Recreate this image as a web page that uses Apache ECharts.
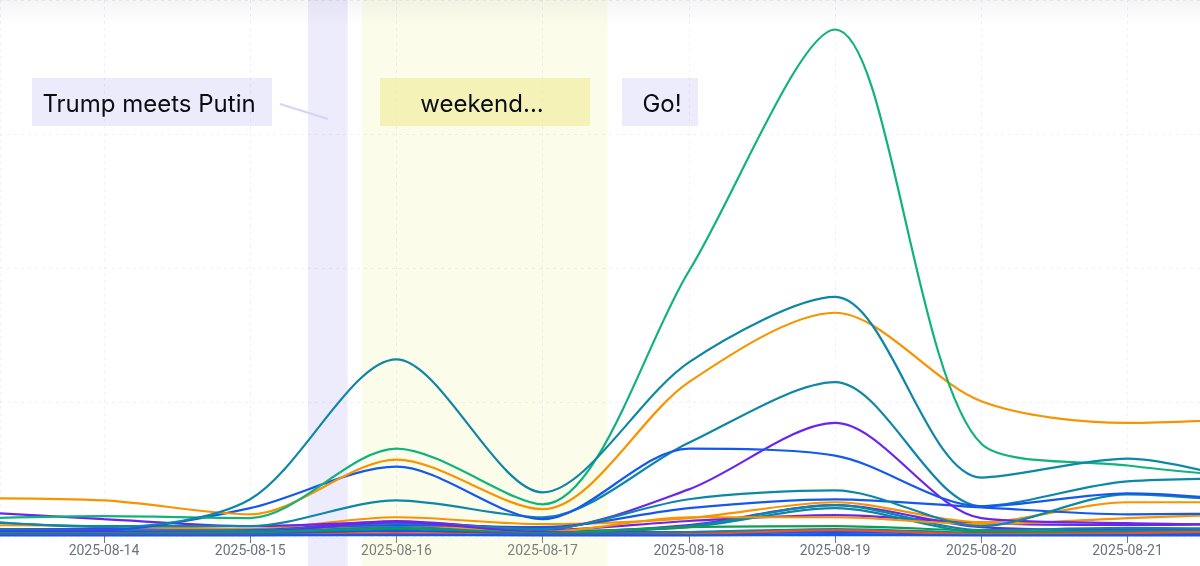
<!DOCTYPE html>
<html>
<head>
    <meta charset="utf-8">
    <title>ECharts</title>
    <script src="https://cdn.jsdelivr.net/npm/echarts@6/dist/echarts.min.js"></script>
    <style>
        html, body { margin: 0; padding: 0; background: #fff; }
        #main { width: 1200px; height: 566px; }
    </style>
</head>
<body>
    <div id="main"></div>
    <script type="text/javascript">
        var days = ['2025-08-13', '2025-08-14', '2025-08-15', '2025-08-16', '2025-08-17',
                    '2025-08-18', '2025-08-19', '2025-08-20', '2025-08-21', '2025-08-22'];

        var teal = '#0e87a6', blue = '#1558f0', green = '#10b37c', orange = '#f79400',
            purple = '#6c25ee', red = '#f2501c', darkGreen = '#0f9d4f';

        // one value per day
        var s01 = [4, 4, 4, 7, 4, 4, 7, 4, 4, 4];
        var s02 = [19, 15, 15, 44, 19, 37, 115, 22, 30, 26];
        var s03 = [15, 15, 15, 37, 15, 33, 104, 15, 19, 19];
        var s04 = [19, 19, 15, 48, 15, 41, 115, 33, 22, 33];
        var s05 = [26, 26, 22, 56, 22, 56, 78, 48, 41, 48];
        var s06 = [22, 22, 19, 41, 15, 70, 70, 44, 67, 85];
        var s07 = [41, 37, 26, 70, 44, 67, 126, 52, 126, 126];
        var s08 = [15, 19, 22, 41, 33, 104, 137, 107, 81, 85];
        var s09 = [93, 63, 37, 52, 26, 174, 422, 67, 48, 41];
        var s10 = [26, 22, 19, 48, 26, 137, 170, 37, 155, 115];
        var s11 = [56, 37, 37, 133, 70, 348, 574, 111, 204, 215];
        var s12 = [19, 22, 104, 259, 63, 326, 300, 111, 159, 122];
        var s13 = [141, 133, 81, 285, 100, 574, 833, 503, 422, 444];
        var s14 = [63, 74, 67, 326, 118, 988, 1890, 344, 263, 211];
        var s15 = [63, 33, 137, 659, 163, 648, 892, 218, 289, 174];
        var s16 = [11, 15, 15, 52, 15, 15, 19, 11, 11, 11];
        var s17 = [11, 11, 15, 30, 11, 15, 26, 11, 7, 11];
        var s18 = [11, 11, 11, 26, 11, 33, 37, 19, 11, 11];
        var s19 = [7, 7, 7, 19, 7, 7, 15, 7, 7, 7];
        var s20 = [2, 2, 2, 4, 2, 2, 4, 2, 2, 2];
        var s21 = [4, 4, 4, 11, 4, 7, 22, 7, 11, 19];

        var lines = [
            [s01, blue], [s04, purple], [s05, purple], [s02, teal], [s03, teal], [s06, orange],
            [s07, orange], [s08, blue], [s09, purple], [s10, teal], [s11, teal], [s12, blue],
            [s13, orange], [s14, green], [s15, teal], [s16, purple], [s17, teal], [s18, darkGreen],
            [s19, blue], [s21, red], [s20, blue]
        ];

        // shaded periods, start and end
        var bands = [
            ['2025-08-15 09:29', '2025-08-15 16:00'],
            ['2025-08-15 18:20', '2025-08-17 10:40']
        ];
        var bandColors = ['rgba(84,72,228,0.105)', 'rgba(230,235,100,0.13)'];

        var series = [{
            type: 'custom',
            silent: true,
            z: 1,
            encode: { x: [0, 1] },
            data: bands,
            renderItem: function (params, api) {
                var x0 = api.coord([api.value(0), 0])[0];
                var x1 = api.coord([api.value(1), 0])[0];
                return {
                    type: 'rect',
                    shape: { x: x0, y: 0, width: x1 - x0, height: 566 },
                    style: { fill: bandColors[params.dataIndex] }
                };
            }
        }];
        for (var i = 0; i < lines.length; i++) {
            var pts = [];
            for (var j = 0; j < days.length; j++) {
                pts.push([days[j], lines[i][0][j]]);
            }
            series.push({
                type: 'line',
                smooth: 0.3,
                showSymbol: false,
                silent: true,
                z: 3,
                lineStyle: { width: 2.2, color: lines[i][1] },
                data: pts
            });
        }

        function box(x, w, fill) {
            return { type: 'rect', z: 50, shape: { x: x, y: 78, width: w, height: 48 }, style: { fill: fill } };
        }
        function note(x, text) {
            return {
                type: 'text', z: 51,
                style: { x: x, y: 105, text: text, fill: '#0b0b12', font: '24px Inter', align: 'center', verticalAlign: 'middle' }
            };
        }

        var option = {
            animation: false,
            backgroundColor: '#fff',
            grid: { left: 0, right: 0, top: -4, bottom: 30 },
            xAxis: {
                type: 'time',
                min: '2025-08-13 06:56',
                max: '2025-08-21 11:54',
                minInterval: 86400000,
                maxInterval: 86400000,
                axisLine: { show: false },
                axisTick: { length: 7, lineStyle: { color: '#777', width: 1 } },
                axisLabel: {
                    color: '#6b7280',
                    fontFamily: 'Roboto',
                    fontSize: 14,
                    margin: 8,
                    showMinLabel: false,
                    showMaxLabel: false,
                    formatter: function (v) { return echarts.time.format(v, '{yyyy}-{MM}-{dd}', false); }
                },
                splitLine: { show: true, lineStyle: { color: '#eeeefc', type: [3, 4], width: 1 } }
            },
            yAxis: {
                type: 'value',
                min: 0,
                max: 2000,
                interval: 500,
                axisLine: { show: false },
                axisTick: { show: false },
                axisLabel: { show: false },
                splitLine: { show: true, lineStyle: { color: '#eeeefc', type: [3, 4], width: 1 } }
            },
            series: series,
            graphic: [
                {
                    type: 'rect', z: 40,
                    shape: { x: 0, y: 0, width: 1200, height: 26 },
                    style: {
                        fill: new echarts.graphic.LinearGradient(0, 0, 0, 1, [
                            { offset: 0, color: 'rgba(60,60,70,0.05)' },
                            { offset: 1, color: 'rgba(60,60,70,0)' }
                        ])
                    }
                },
                box(32, 240, 'rgba(84,72,228,0.11)'),
                box(380, 210, 'rgba(240,235,150,0.6)'),
                box(622, 76, 'rgba(84,72,228,0.105)'),
                note(149, 'Trump meets Putin'),
                note(482, 'weekend...'),
                note(662, 'Go!'),
                {
                    type: 'line', z: 50,
                    shape: { x1: 280, y1: 104, x2: 328, y2: 119 },
                    style: { stroke: '#d6d3f6', lineWidth: 2 }
                }
            ]
        };

        var myChart = echarts.init(document.getElementById('main'), null, { renderer: 'canvas' });
        myChart.setOption(option);
    </script>
</body>
</html>
